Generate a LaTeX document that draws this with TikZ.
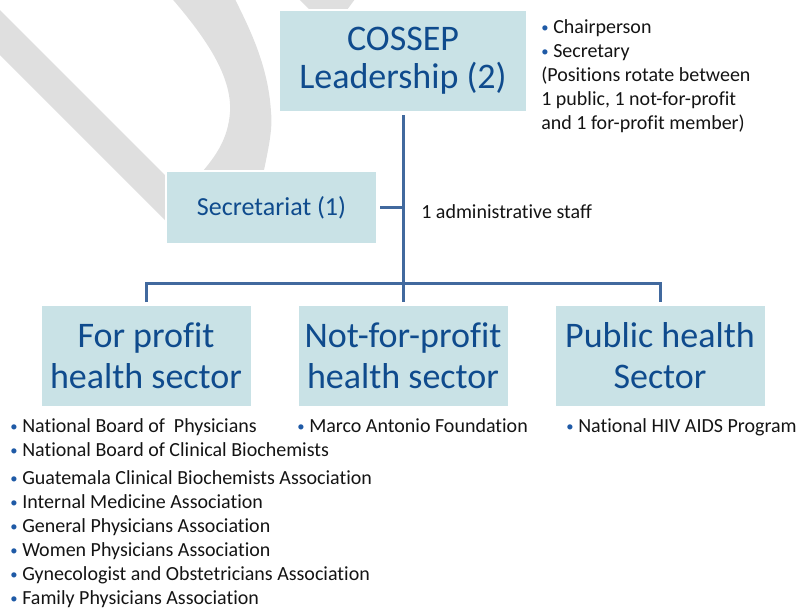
\documentclass[tikz,border=0pt]{standalone}
\usepackage{fontspec}
\setmainfont{Carlito}[Ligatures=NoCommon]
\usetikzlibrary{positioning}

\definecolor{boxfill}{HTML}{C9E2E6}
\definecolor{boxtext}{HTML}{0F4B8D}
\definecolor{linkblue}{HTML}{41699E}
\definecolor{ribbon}{HTML}{DFDFDF}
\definecolor{dotblue}{HTML}{1F5AA6}
\definecolor{notetext}{HTML}{141414}

% small blue bullet in front of a list line
\newcommand{\blt}{\makebox[9pt][l]{\color{dotblue}\fontsize{11}{11}\selectfont\raisebox{0.3pt}{\textbullet}}}

\begin{document}
\begin{tikzpicture}[x=0.75pt, y=-0.75pt,
    box/.style={fill=boxfill, draw=white, line width=1.5pt, outer sep=0pt,
      inner sep=1pt, text=boxtext, align=center},
    bigbox/.style={box, minimum width=158.25pt, minimum height=76.5pt,
      font=\fontsize{27}{30.75}\selectfont},
    link/.style={draw=linkblue, line width=2.25pt, shorten <=2.25pt, shorten >=2.25pt},
    notes/.style={align=left, inner sep=0pt, text=notetext,
      font=\fontsize{15}{18}\selectfont},
    node distance=34.5pt]
  \useasboundingbox (0,0) rectangle (799,608);

  % grey ribbon in the background
  \fill[ribbon] (-40,-30) -- (-40,15) -- (185,240) -- (230,240) -- cycle;
  \fill[ribbon] (160,-15) .. controls (205,35) and (232,75) .. (230,112)
    .. controls (228,140) and (215,158) .. (195,180) -- (262,180)
    .. controls (268,150) and (273,130) .. (271,112)
    .. controls (268,60) and (245,20) .. (228,-15) -- cycle;
  \fill[ribbon] (295,-5) -- (358,-5) -- (344,14) -- (314,14) -- cycle;

  % boxes
  \node[box, minimum width=186pt, minimum height=76.5pt,
    font=\fontsize{27}{28.5}\selectfont] (lead) at (403,61) {COSSEP\\Leadership (2)};
  \node[box, minimum width=158.25pt, minimum height=54.75pt,
    font=\fontsize{19.5}{22}\selectfont] (sec) at (271.5,207.5) {Secretariat (1)};
  \node[bigbox, below=144.75pt of lead] (nfp) {Not-for-profit\\health sector};
  \node[bigbox, left=of nfp] (fp) {For profit\\health sector};
  \node[bigbox, right=of nfp] (pub) {Public health\\Sector};

  % connectors
  \coordinate (bus) at (403,283);
  \coordinate (jn) at (sec.east -| lead.south);
  \draw[link] (lead.south) -- (nfp.north);
  \draw[link, shorten >=0pt] (sec.east) -- (jn);
  \draw[link] (fp.north) |- (bus) -| (pub.north);

  % notes
  \node[notes, right=13.5pt of jn, yshift=-3pt] (staff) {1 administrative staff};
  \node[notes, anchor=north west] (roles) at (541,19)
    {\blt Chairperson\\ \blt Secretary\\ (Positions rotate between\\
     1 public, 1 not-for-profit\\ and 1 for-profit member)};
  \node[notes, anchor=north west] (fplist) at (10,418)
    {\blt National Board of\ \ Physicians\\
     \blt National Board of Clinical Biochemists\\[3pt]
     \blt Guatemala Clinical Biochemists Association\\
     \blt Internal Medicine Association\\
     \blt General Physicians Association\\
     \blt Women Physicians Association\\
     \blt Gynecologist and Obstetricians Association\\
     \blt Family Physicians Association};
  \node[notes, anchor=north west] (nfplist) at (297,418) {\blt Marco Antonio Foundation};
  \node[notes, anchor=north west] (publist) at (566,418) {\blt National HIV AIDS Program};
\end{tikzpicture}
\end{document}
